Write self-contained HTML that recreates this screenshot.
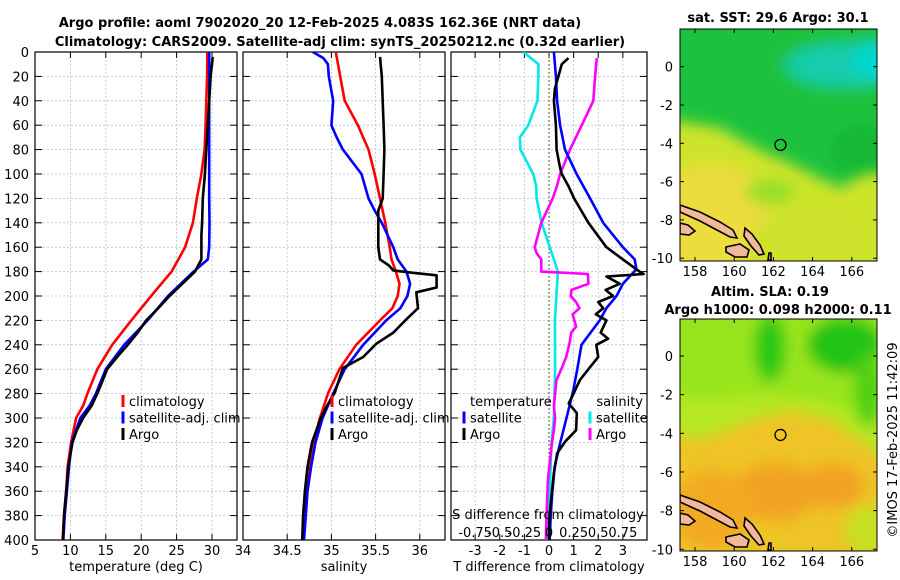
<!DOCTYPE html>
<html><head><meta charset="utf-8"><style>
html,body{margin:0;padding:0;background:#fff;}
svg{display:block;font-family:"DejaVu Sans","Liberation Sans",sans-serif;}
</style></head><body>
<svg id="fig" width="900" height="580" viewBox="0 0 900 580" xmlns="http://www.w3.org/2000/svg">
<defs>
<filter id="blur" x="-20%" y="-20%" width="140%" height="140%"><feGaussianBlur stdDeviation="7"/></filter>
<clipPath id="clipTop"><rect x="680" y="29" width="197" height="232"/></clipPath>
<clipPath id="clipBot"><rect x="680" y="319" width="197" height="232"/></clipPath>
<clipPath id="clipP1"><rect x="35" y="52" width="202" height="488"/></clipPath>
<clipPath id="clipP2"><rect x="243" y="52" width="202" height="488"/></clipPath>
<clipPath id="clipP3"><rect x="451" y="52" width="196" height="488"/></clipPath>
</defs>
<text x="320" y="27" text-anchor="middle" font-size="13" font-weight="bold">Argo profile: aoml 7902020_20 12-Feb-2025 4.083S 162.36E (NRT data)</text>
<text x="340" y="46" text-anchor="middle" font-size="13" font-weight="bold">Climatology: CARS2009. Satellite-adj clim: synTS_20250212.nc (0.32d earlier)</text>

<!-- top map -->
<g clip-path="url(#clipTop)">
<rect x="680" y="29" width="197" height="232" fill="#cde42a"/>
<g filter="url(#blur)">
<ellipse cx="712" cy="218" rx="60" ry="55" fill="#ecdc3c"/>
<ellipse cx="810" cy="240" rx="60" ry="30" fill="#cde22a"/>
<polygon points="660,10 900,10 900,180 870,170 840,188 800,168 760,150 720,128 660,118" fill="#1cc23c"/>
<ellipse cx="860" cy="150" rx="30" ry="25" fill="#16b836"/>
<ellipse cx="845" cy="65" rx="60" ry="22" fill="#12ccac"/>
<ellipse cx="872" cy="60" rx="20" ry="18" fill="#06d8d0"/>
<ellipse cx="770" cy="192" rx="25" ry="12" fill="#96de28"/>
</g>
</g>
<!-- bottom map -->
<g clip-path="url(#clipBot)">
<rect x="680" y="319" width="197" height="232" fill="#eec426"/>
<g filter="url(#blur)">
<polygon points="660,300 900,300 900,470 860,440 830,420 790,410 750,420 700,440 660,430" fill="#b6e820"/>
<polygon points="660,300 900,300 900,430 820,400 760,395 700,400 660,390" fill="#98e41c"/>
<ellipse cx="770" cy="348" rx="16" ry="34" fill="#2cc818"/>
<ellipse cx="845" cy="345" rx="38" ry="28" fill="#22c414"/>
<ellipse cx="868" cy="390" rx="14" ry="38" fill="#50d018"/>
<ellipse cx="775" cy="492" rx="42" ry="28" fill="#f2a220"/>
<ellipse cx="832" cy="486" rx="32" ry="22" fill="#f2a220"/>
<ellipse cx="712" cy="510" rx="40" ry="40" fill="#f2aa22"/>
<ellipse cx="870" cy="530" rx="25" ry="25" fill="#c6e024"/>
</g>
</g>
<g id="maps-overlay"></g>
<g id="profiles"></g>
<text transform="translate(897,440) rotate(-90)" text-anchor="middle" font-size="13">©IMOS 17-Feb-2025 11:42:09</text>
<text x="778" y="22" text-anchor="middle" font-size="13" font-weight="bold">sat. SST: 29.6 Argo: 30.1</text>
<text x="770" y="296" text-anchor="middle" font-size="13" font-weight="bold">Altim. SLA: 0.19</text>
<text x="778" y="314" text-anchor="middle" font-size="13" font-weight="bold">Argo h1000: 0.098 h2000: 0.11</text>
</svg>
<script>
// ---- data (depth in dbar) ----
const tClimDepth=[0,20,40,60,80,100,120,140,160,180,200,220,240,260,280,290,300,320,340,360,380,400];
const tClimVal=[29.35,29.3,29.2,29.1,28.95,28.5,27.85,27.3,26.2,24.3,21.4,18.6,15.9,13.8,12.4,11.8,10.8,10.1,9.6,9.4,9.1,8.9];
const tSatDepth=[0,20,40,60,80,100,120,140,160,170,180,200,220,240,260,280,290,300,320,340,360,380,400];
const tSatVal=[29.6,29.6,29.6,29.6,29.6,29.6,29.6,29.65,29.6,29.4,27.4,23.8,20.9,17.6,15.0,13.6,12.7,11.4,10.2,9.8,9.5,9.2,9.0];
const tArgoDepth=[4,10,20,40,60,80,100,120,140,150,160,170,180,190,200,210,220,230,240,250,260,270,280,290,300,310,320,340,360,380,400];
const tArgoVal=[30.1,30.0,29.8,29.6,29.4,29.2,29.0,28.7,28.6,28.5,28.5,28.5,27.6,25.8,24.0,22.4,20.7,19.5,18.1,16.6,15.2,14.5,13.8,13.0,11.8,10.9,10.3,9.7,9.4,9.1,8.95];
const sClimDepth=[0,20,40,60,80,100,120,140,160,170,180,190,200,210,220,240,260,280,300,320,340,360,380,400];
const sClimVal=[35.05,35.1,35.15,35.3,35.42,35.49,35.55,35.61,35.66,35.68,35.73,35.77,35.75,35.69,35.55,35.28,35.09,34.96,34.87,34.8,34.75,34.72,34.7,34.68];
const sSatDepth=[0,5,10,20,40,60,70,80,100,110,120,130,140,160,170,180,190,200,210,220,240,260,280,300,320,340,360,380,400];
const sSatVal=[34.79,34.91,34.96,34.97,35.02,35.0,35.06,35.13,35.34,35.38,35.42,35.49,35.57,35.7,35.75,35.85,35.89,35.86,35.78,35.62,35.36,35.15,35.02,34.9,34.82,34.77,34.73,34.71,34.69];
const sArgoDepth=[4,20,40,60,80,100,120,130,140,160,170,175,179,181,183,193,197,210,219,230,239,250,259,270,279,290,300,320,340,360,380,400];
const sArgoVal=[35.55,35.57,35.58,35.59,35.6,35.59,35.58,35.53,35.53,35.53,35.55,35.65,35.7,35.92,36.19,36.19,35.96,35.98,35.85,35.7,35.51,35.36,35.13,35.08,35.04,34.95,34.88,34.78,34.73,34.70,34.68,34.67];
const dTSatDepth=[0,20,40,60,80,100,120,140,160,170,178,190,200,210,220,240,260,278,300,320,340,360,380,400];
const dTSatVal=[0.2,0.28,0.33,0.45,0.65,1.12,1.67,2.2,3.0,3.48,3.55,3.0,2.74,2.33,2.06,1.32,1.15,0.98,0.71,0.46,0.23,0.14,0.07,0.03];
const dTArgoDepth=[5,10,20,30,40,60,80,95,100,110,120,140,160,170,180,182,184,190,195,200,205,210,215,220,230,235,240,250,260,269,280,288,296,310,319,329,345,360,380,400];
const dTArgoVal=[0.79,0.52,0.38,0.24,0.2,0.28,0.31,0.45,0.52,0.79,1.02,1.6,2.33,3.0,3.68,3.84,2.33,2.87,2.3,2.6,2.0,2.2,1.9,2.33,2.1,2.4,1.92,2.0,1.6,1.25,1.0,0.8,1.13,1.1,0.67,0.33,0.2,0.12,0.02,0.0];
const dSSatDepth=[0,10,20,40,60,70,80,100,110,120,140,160,180,200,220,260,300,320,350,380,400];
const dSSatVal=[-0.26,-0.108,-0.108,-0.118,-0.21,-0.295,-0.29,-0.16,-0.13,-0.125,-0.075,0.008,0.09,0.075,0.06,0.062,0.05,0.025,0.012,0,-0.008];
const dSArgoDepth=[5,20,40,60,80,100,110,120,140,160,165,170,180,182,190,195,200,205,210,215,225,230,238,250,260,269,290,300,310,320,350,380,400];
const dSArgoVal=[0.485,0.468,0.45,0.333,0.213,0.113,0.08,0.038,-0.078,-0.145,-0.125,-0.078,-0.078,0.395,0.4,0.228,0.22,0.275,0.31,0.24,0.275,0.225,0.21,0.175,0.125,0.075,0.05,0.062,0.05,0.03,-0.01,-0.025,-0.032];
const depthTicks=[0,20,40,60,80,100,120,140,160,180,200,220,240,260,280,300,320,340,360,380,400];
const tTicks=[5,10,15,20,25,30];
const sTicks=[34,34.5,35,35.5,36];
const dTTicks=[-3,-2,-1,0,1,2,3];
const dSTickLabels=["-0.75","-0.5","-0.25","0","0.25","0.5","0.75"];
const dSTickVals=[-0.75,-0.5,-0.25,0,0.25,0.5,0.75];
const latTicks=[0,-2,-4,-6,-8,-10];
const lonTicks=[158,160,162,164,166];
const argoLon=162.36, argoLat=-4.083;

const NS="http://www.w3.org/2000/svg";
function mk(tag,attrs,parent){const e=document.createElementNS(NS,tag);for(const k in attrs)e.setAttribute(k,attrs[k]);parent.appendChild(e);return e;}
const prof=document.getElementById('profiles');
const Y=d=>52+d*1.22;
const P1={x0:35,x1:237,min:5,max:33.53};
const P2={x0:243,x1:445,min:34,max:36.285};
const P3={x0:451,x1:647,min:-3.98,max:3.98};
function X(p,v){return p.x0+(v-p.min)/(p.max-p.min)*(p.x1-p.x0);}
const X3s=s=>X(P3,s*4);

function panel(p,clip,name,xt,xfmt){
  const g=mk('g',{},prof);
  
  
  depthTicks.forEach(d=>{const l=mk('line',{x1:p.x0,x2:p.x1,y1:Y(d),y2:Y(d),stroke:'#b8c0e0','stroke-width':0.8,'stroke-dasharray':'2,2'},g);
    });
  xt.forEach(v=>{const x=X(p,v);const l=mk('line',{x1:x,x2:x,y1:52,y2:540,stroke:'#b8c0e0','stroke-width':0.8,'stroke-dasharray':'2,2'},g);
    });
  depthTicks.forEach(d=>{mk('line',{x1:p.x0,x2:p.x0+7,y1:Y(d),y2:Y(d),stroke:'#000'},g);mk('line',{x1:p.x1-7,x2:p.x1,y1:Y(d),y2:Y(d),stroke:'#000'},g);});
  xt.forEach(v=>{const x=X(p,v);mk('line',{x1:x,x2:x,y1:540,y2:534,stroke:'#000'},g);mk('line',{x1:x,x2:x,y1:52,y2:58,stroke:'#000'},g);
    const t=mk('text',{x:x,y:555,'text-anchor':'middle','font-size':13},g);t.textContent=xfmt(v);
    });
  const b=mk('rect',{x:p.x0,y:52,width:p.x1-p.x0,height:488,fill:'none',stroke:'#000','stroke-width':1.2},g);
  
  return g;
}
function line(g,clip,depths,vals,xf,color,name){
  const pts=depths.map((d,i)=>xf(vals[i]).toFixed(1)+','+Y(d).toFixed(1)).join(' ');
  const l=mk('polyline',{points:pts,fill:'none',stroke:color,'stroke-width':2.6,'stroke-linejoin':'round','clip-path':'url(#'+clip+')'},g);
  
  
}
const g1=panel(P1,'clipP1','temperature-panel',tTicks,v=>String(v));
depthTicks.forEach(d=>{const t=mk('text',{x:29,y:Y(d)+5,'text-anchor':'end','font-size':13},prof);t.textContent=d;
  });
line(g1,'clipP1',tClimDepth,tClimVal,v=>X(P1,v),'#ff0000','temperature-climatology-line');
line(g1,'clipP1',tSatDepth,tSatVal,v=>X(P1,v),'#0000ff','temperature-satellite-line');
line(g1,'clipP1',tArgoDepth,tArgoVal,v=>X(P1,v),'#000000','temperature-argo-line');
const g2=panel(P2,'clipP2','salinity-panel',sTicks,v=>String(v));
line(g2,'clipP2',sClimDepth,sClimVal,v=>X(P2,v),'#ff0000','salinity-climatology-line');
line(g2,'clipP2',sSatDepth,sSatVal,v=>X(P2,v),'#0000ff','salinity-satellite-line');
line(g2,'clipP2',sArgoDepth,sArgoVal,v=>X(P2,v),'#000000','salinity-argo-line');
const g3=panel(P3,'clipP3','difference-panel',dTTicks,v=>String(v));
const z=mk('line',{x1:X(P3,0),x2:X(P3,0),y1:52,y2:540,stroke:'#555530','stroke-width':1.2,'stroke-dasharray':'1.5,2.5'},g3);

line(g3,'clipP3',dSSatDepth,dSSatVal,X3s,'#00e8e8','salinity-diff-satellite-line');
line(g3,'clipP3',dSArgoDepth,dSArgoVal,X3s,'#ff00ff','salinity-diff-argo-line');
line(g3,'clipP3',dTSatDepth,dTSatVal,v=>X(P3,v),'#0000ff','temperature-diff-satellite-line');
line(g3,'clipP3',dTArgoDepth,dTArgoVal,v=>X(P3,v),'#000000','temperature-diff-argo-line');
dSTickVals.forEach((v,i)=>{const t=mk('text',{x:X3s(v),y:537,'text-anchor':'middle','font-size':13},prof);t.textContent=dSTickLabels[i];
  });
function txt(x,y,s,name,anchor,size){const t=mk('text',{x:x,y:y,'text-anchor':anchor||'start','font-size':size||13},prof);t.textContent=s;
  return t;}
txt(548,519,'S difference from climatology','s-diff-axis-title','middle');
txt(136,571,'temperature (deg C)','temperature-axis-title','middle');
txt(344,571,'salinity','salinity-axis-title','middle');
txt(549,571,'T difference from climatology','t-diff-axis-title','middle');
// legends
function legItem(x,y,color,label,name){const r=mk('rect',{x:x-1.5,y:y-6,width:3,height:12,fill:color},prof);
  
  txt(x+6,y+5,label,name);}
[[123,'climatology','#ff0000'],[123,'satellite-adj. clim','#0000ff'],[123,'Argo','#000']].forEach((a,i)=>legItem(a[0],401+i*16.5,a[2],a[1],'temperature-legend-entry'));
[[332,'climatology','#ff0000'],[332,'satellite-adj. clim','#0000ff'],[332,'Argo','#000']].forEach((a,i)=>legItem(a[0],401+i*16.5,a[2],a[1],'salinity-legend-entry'));
txt(470,406,'temperature','diff-legend-temperature-heading');
txt(643,406,'salinity','diff-legend-salinity-heading','end');
legItem(464,417.5,'#0000ff','satellite','diff-legend-t-satellite');
legItem(464,434,'#000','Argo','diff-legend-t-argo');
legItem(590,417.5,'#00e8e8','satellite','diff-legend-s-satellite');
legItem(590,434,'#ff00ff','Argo','diff-legend-s-argo');

// maps
const mo=document.getElementById('maps-overlay');
const LX=lon=>695+(lon-158)*19.6;
const islands=[
 [[680,205],[700,212],[720,222],[733,230],[737,238],[730,237],[715,229],[700,221],[680,212]],
 [[745,228],[752,234],[760,245],[764,254],[759,255],[751,246],[744,236]],
 [[726,247],[740,244],[749,250],[747,257],[735,257],[726,252]],
 [[680,223],[688,225],[695,231],[689,235],[680,234]],
 [[769,253],[771,253],[771,260],[768,260]]
];
[[0,'clipTop',66.7,19.15,'sst'],[290,'clipBot',356,19.33,'sla']].forEach(m=>{
  const off=m[0];const LY=lat=>m[2]-lat*m[3];
  const g=mk('g',{'clip-path':'url(#'+m[1]+')'},mo);
  
  islands.forEach(pl=>{const p=mk('polygon',{points:pl.map(q=>q[0]+','+(q[1]+off)).join(' '),fill:'#f2b898',stroke:'#000','stroke-width':1.6},g);
    });
  const c=mk('circle',{cx:LX(argoLon),cy:LY(argoLat),r:5.5,fill:'none',stroke:'#000','stroke-width':1.3},g);
  
  const top=off+29,bot=off+261;
  const b=mk('rect',{x:680,y:top,width:197,height:232,fill:'none',stroke:'#000','stroke-width':1},mo);
  
  latTicks.forEach(l=>{const y=LY(l);mk('line',{x1:680,x2:684,y1:y,y2:y,stroke:'#000'},mo);mk('line',{x1:873,x2:877,y1:y,y2:y,stroke:'#000'},mo);
    const t=mk('text',{x:673,y:y+5,'text-anchor':'end','font-size':13},mo);t.textContent=l;
    });
  lonTicks.forEach(l=>{const x=LX(l);mk('line',{x1:x,x2:x,y1:bot-4,y2:bot,stroke:'#000'},mo);mk('line',{x1:x,x2:x,y1:top,y2:top+4,stroke:'#000'},mo);
    const t=mk('text',{x:x,y:bot+15,'text-anchor':'middle','font-size':13},mo);t.textContent=l;
    });
});
</script>
</body></html>
